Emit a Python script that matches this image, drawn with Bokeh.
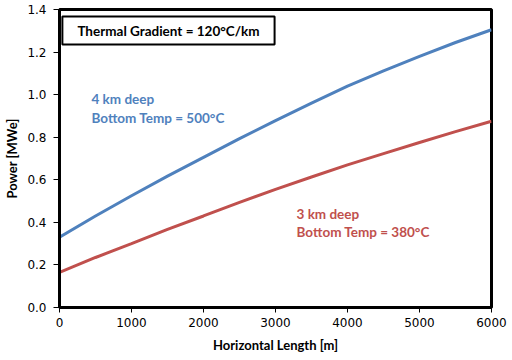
from bokeh.plotting import figure
from bokeh.models import Range1d, Label, FixedTicker, NumeralTickFormatter
from bokeh.embed import file_html
from bokeh.resources import INLINE

length_m = [0, 500, 1000, 1500, 2000, 2500, 3000, 3500, 4000, 4500, 5000, 5500, 6000]
power_4km = [0.33, 0.43, 0.525, 0.617, 0.705, 0.793, 0.878, 0.96, 1.04, 1.112, 1.18, 1.245, 1.305]
power_3km = [0.165, 0.235, 0.30, 0.367, 0.43, 0.494, 0.555, 0.613, 0.67, 0.723, 0.775, 0.826, 0.875]
x_ticks = [0, 1000, 2000, 3000, 4000, 5000, 6000]
y_ticks = [0.0, 0.2, 0.4, 0.6, 0.8, 1.0, 1.2, 1.4]

BLUE = "#4F81BD"
RED = "#C0504D"
LBL_FONT = "Lato"
TICK_FONT = "DejaVu Sans"

p = figure(width=508, height=358, output_backend="svg", toolbar_location=None,
           x_range=Range1d(0, 6000), y_range=Range1d(0, 1.4),
           min_border_left=59, min_border_right=17, min_border_top=9, min_border_bottom=51)

p.line(length_m, power_4km, line_color=BLUE, line_width=3)
p.line(length_m, power_3km, line_color=RED, line_width=3)

p.xgrid.visible = False
p.ygrid.visible = False
p.outline_line_color = "black"
p.outline_line_width = 3
p.outline_line_alpha = 1.0

for ax in (p.xaxis[0], p.yaxis[0]):
    ax.axis_line_color = "black"
    ax.axis_line_width = 3
    ax.major_tick_line_color = "black"
    ax.major_tick_line_width = 1
    ax.major_tick_in = 0
    ax.major_tick_out = 6
    ax.minor_tick_line_color = None
    ax.major_label_text_font = TICK_FONT
    ax.major_label_text_font_size = "12px"
    ax.major_label_text_color = "black"
    ax.axis_label_text_font = LBL_FONT
    ax.axis_label_text_font_style = "bold"
    ax.axis_label_text_font_size = "13px"
    ax.axis_label_text_color = "black"

p.xaxis[0].ticker = FixedTicker(ticks=x_ticks)
p.yaxis[0].ticker = FixedTicker(ticks=y_ticks)
p.yaxis[0].formatter = NumeralTickFormatter(format="0.0")
p.xaxis[0].formatter = NumeralTickFormatter(format="0")
p.xaxis[0].major_tick_out = 5
p.xaxis[0].major_label_standoff = 5
p.yaxis[0].major_label_standoff = 7
p.xaxis[0].axis_label = "Horizontal Length [m]"
p.yaxis[0].axis_label = "Power [MWe]"
p.xaxis[0].axis_label_standoff = 7
p.yaxis[0].axis_label_standoff = 4

p.add_layout(Label(x=40, y=1.367, text="Thermal Gradient = 120°C/km",
                   text_font=LBL_FONT, text_font_style="bold", text_font_size="13.5px",
                   text_color="black", text_baseline="top", text_align="left",
                   border_line_color="black", border_line_width=2,
                   background_fill_color="white",
                   padding=dict(left=15, right=15, top=6, bottom=6)))

p.add_layout(Label(x=444, y=1.015, text="4 km deep\nBottom Temp = 500°C",
                   text_font=LBL_FONT, text_font_style="bold", text_font_size="13.5px",
                   text_color=BLUE, text_baseline="top", text_align="left",
                   text_line_height=1.15))

p.add_layout(Label(x=3292, y=0.479, text="3 km deep\nBottom Temp = 380°C",
                   text_font=LBL_FONT, text_font_style="bold", text_font_size="13.5px",
                   text_color=RED, text_baseline="top", text_align="left",
                   text_line_height=1.15))

open("out.html", "w").write(file_html(p, INLINE))
